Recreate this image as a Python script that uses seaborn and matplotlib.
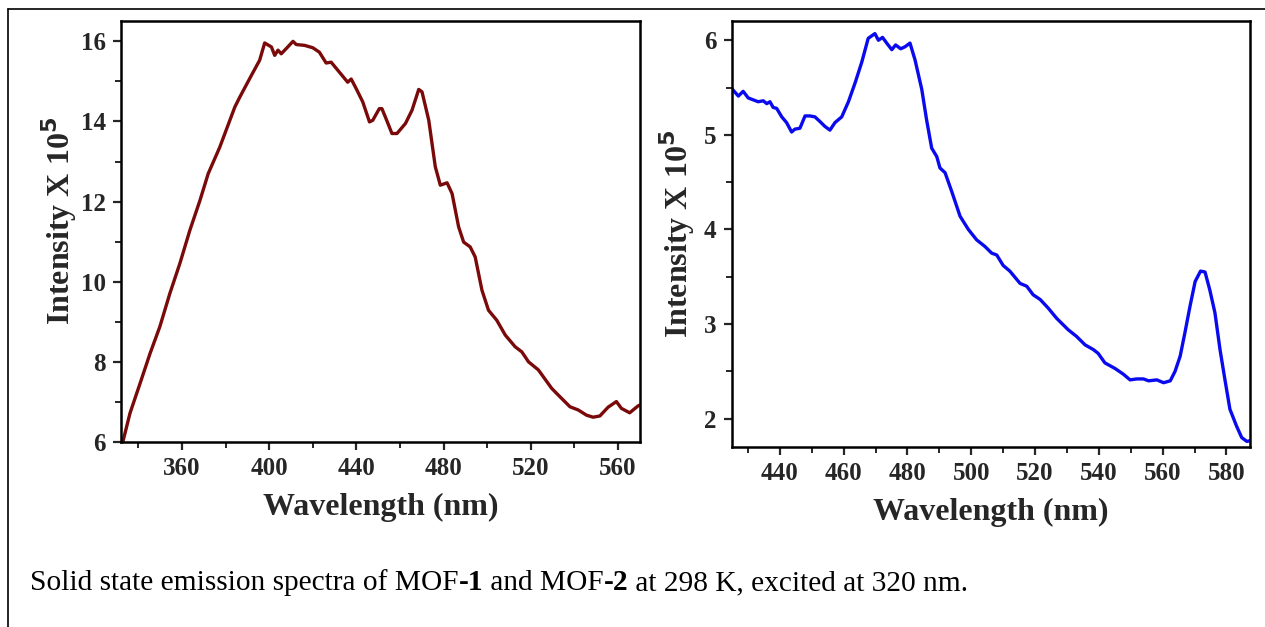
import numpy as np
import pandas as pd
import matplotlib
matplotlib.use("Agg")
import matplotlib.pyplot as plt
from matplotlib.lines import Line2D
from matplotlib.ticker import MultipleLocator
import seaborn as sns

# --- Data (wavelength in nm, intensity x 10^5) ---
mof1_wl = [332.8, 336.1, 340.7, 345.3, 349.8, 354.4, 359.0, 363.6, 368.2, 372.0,
           377.3, 384.2, 386.5, 391.8, 395.6, 397.9, 401.0, 402.5, 404.0, 405.5,
           407.8, 410.9, 412.4, 416.2, 420.0, 423.0, 426.1, 428.4, 432.2, 436.0,
           437.6, 439.9, 442.9, 446.0, 447.5, 450.5, 451.7, 453.3, 456.3, 458.6,
           462.5, 465.5, 468.6, 470.1, 473.2, 476.2, 478.5, 481.6, 483.9, 486.9,
           489.2, 492.2, 494.5, 497.6, 500.6, 504.4, 508.3, 512.8, 515.9, 519.0,
           523.5, 529.6, 533.4, 538.0, 541.8, 545.6, 548.6, 551.7, 555.5, 559.3,
           561.6, 565.4, 569.2, 570.0]
mof1_int = [6.00, 6.72, 7.46, 8.21, 8.88, 9.71, 10.46, 11.29, 12.03, 12.70,
            13.36, 14.36, 14.61, 15.15, 15.53, 15.96, 15.86, 15.65, 15.78, 15.69,
            15.82, 16.00, 15.92, 15.90, 15.84, 15.73, 15.46, 15.48, 15.23, 14.98,
            15.06, 14.82, 14.49, 13.99, 14.03, 14.32, 14.32, 14.11, 13.70, 13.70,
            13.95, 14.28, 14.80, 14.74, 14.03, 12.87, 12.41, 12.47, 12.20, 11.37,
            10.99, 10.87, 10.62, 9.79, 9.29, 9.04, 8.67, 8.38, 8.25, 8.00,
            7.80, 7.34, 7.13, 6.88, 6.80, 6.67, 6.62, 6.65, 6.87, 7.01,
            6.84, 6.73, 6.90, 6.92]

mof2_wl = [424.9, 427.0, 428.5, 430.1, 433.2, 434.8, 435.9, 436.9, 437.9, 439.0,
           440.6, 442.1, 443.7, 444.7, 446.3, 447.9, 449.4, 451.0, 452.6, 454.1,
           455.7, 457.3, 459.4, 461.5, 463.6, 465.7, 467.7, 469.8, 470.9, 472.2,
           473.5, 475.1, 476.3, 477.9, 479.2, 480.8, 482.4, 484.5, 486.0, 487.6,
           489.2, 490.2, 491.8, 493.9, 496.5, 499.1, 501.7, 504.3, 506.4, 508.0,
           510.0, 512.1, 515.3, 517.4, 519.4, 521.6, 524.1, 526.8, 530.4, 533.0,
           535.7, 538.3, 539.8, 541.9, 545.1, 547.7, 549.8, 551.9, 554.0, 555.6,
           558.2, 560.3, 562.4, 563.9, 565.5, 567.0, 568.6, 570.2, 571.9, 573.3,
           574.8, 576.4, 578.0, 579.5, 581.1, 583.2, 584.8, 586.4, 587.9]
mof2_int = [5.49, 5.41, 5.46, 5.39, 5.35, 5.36, 5.33, 5.35, 5.29, 5.28,
            5.19, 5.13, 5.03, 5.06, 5.07, 5.20, 5.20, 5.19, 5.14, 5.09,
            5.05, 5.13, 5.19, 5.35, 5.55, 5.77, 6.02, 6.07, 6.00, 6.03,
            5.97, 5.90, 5.95, 5.91, 5.93, 5.97, 5.79, 5.48, 5.16, 4.86,
            4.77, 4.65, 4.60, 4.40, 4.14, 4.00, 3.89, 3.82, 3.75, 3.73,
            3.62, 3.56, 3.43, 3.40, 3.31, 3.26, 3.17, 3.06, 2.94, 2.87,
            2.78, 2.73, 2.69, 2.59, 2.53, 2.47, 2.41, 2.42, 2.42, 2.40,
            2.41, 2.38, 2.40, 2.50, 2.66, 2.91, 3.19, 3.45, 3.56, 3.55,
            3.36, 3.12, 2.73, 2.42, 2.10, 1.92, 1.80, 1.76, 1.77]

x_label = "Wavelength (nm)"
y_label = r"Intensity X 10$^{\mathbf{5}}$"
caption_parts = ["Solid state emission spectra of MOF", "-1", " and MOF", "-2",
                 " at 298 K, excited at 320 nm."]

sns.set_style("ticks")
plt.rcParams["font.family"] = ["Liberation Serif", "DejaVu Serif"]
plt.rcParams["mathtext.fontset"] = "dejavusans"

fig = plt.figure(figsize=(12.65, 6.27), dpi=100)
ax1 = fig.add_axes([0.0957, 0.295, 0.410, 0.671])
ax2 = fig.add_axes([0.5784, 0.287, 0.410, 0.679])

df1 = pd.DataFrame({"wl": mof1_wl, "I": mof1_int})
df2 = pd.DataFrame({"wl": mof2_wl, "I": mof2_int})
sns.lineplot(data=df1, x="wl", y="I", ax=ax1, color="#7a0a0a", linewidth=2.4)
sns.lineplot(data=df2, x="wl", y="I", ax=ax2, color="#0a0aee", linewidth=2.4)

ax1.set_xlim(332, 570)
ax1.set_ylim(6, 16.5)
ax1.xaxis.set_major_locator(MultipleLocator(40))
ax1.xaxis.set_minor_locator(MultipleLocator(20))
ax1.yaxis.set_major_locator(MultipleLocator(2))
ax1.yaxis.set_minor_locator(MultipleLocator(1))

ax2.set_xlim(424.9, 587.5)
ax2.set_ylim(1.7, 6.2)
ax2.xaxis.set_major_locator(MultipleLocator(20))
ax2.xaxis.set_minor_locator(MultipleLocator(10))
ax2.yaxis.set_major_locator(MultipleLocator(1))
ax2.yaxis.set_minor_locator(MultipleLocator(0.5))

for ax in (ax1, ax2):
    for sp in ax.spines.values():
        sp.set_visible(True)
        sp.set_linewidth(1.8)
        sp.set_color("black")
    ax.tick_params(which="major", direction="out", length=6, width=1.6,
                   labelsize=18, pad=5)
    ax.tick_params(which="minor", direction="out", length=4, width=1.4)
    for lab in ax.get_xticklabels() + ax.get_yticklabels():
        lab.set_fontweight("bold")
    ax.set_xlabel(x_label, fontsize=23, fontweight="bold", labelpad=9)
    ax.set_ylabel(y_label, fontsize=23, fontweight="bold")

# y labels sit closer to the axes than the default
ax1.yaxis.set_label_coords(-0.081, 0.525)
ax2.yaxis.set_label_coords(-0.066, 0.50)

# outer frame (top and left edges of the figure box)
fig.add_artist(Line2D([8 / 1265, 1.0], [1 - 8.6 / 627, 1 - 8.6 / 627],
                      transform=fig.transFigure, color="black", linewidth=1.2))
fig.add_artist(Line2D([8 / 1265, 8 / 1265], [0.0, 1 - 8.6 / 627],
                      transform=fig.transFigure, color="black", linewidth=1.2))

# caption with bold compound numbers
x = 30 / 1265
y = 1 - 590 / 627
fig.canvas.draw()
renderer = fig.canvas.get_renderer()
for part in caption_parts:
    weight = "bold" if part.startswith("-") else "normal"
    t = fig.text(x, y, part, fontsize=21.2, fontweight=weight, ha="left",
                 va="baseline", color="black")
    bb = t.get_window_extent(renderer=renderer)
    x += bb.width / fig.bbox.width

fig.savefig("out.png", dpi=100)
